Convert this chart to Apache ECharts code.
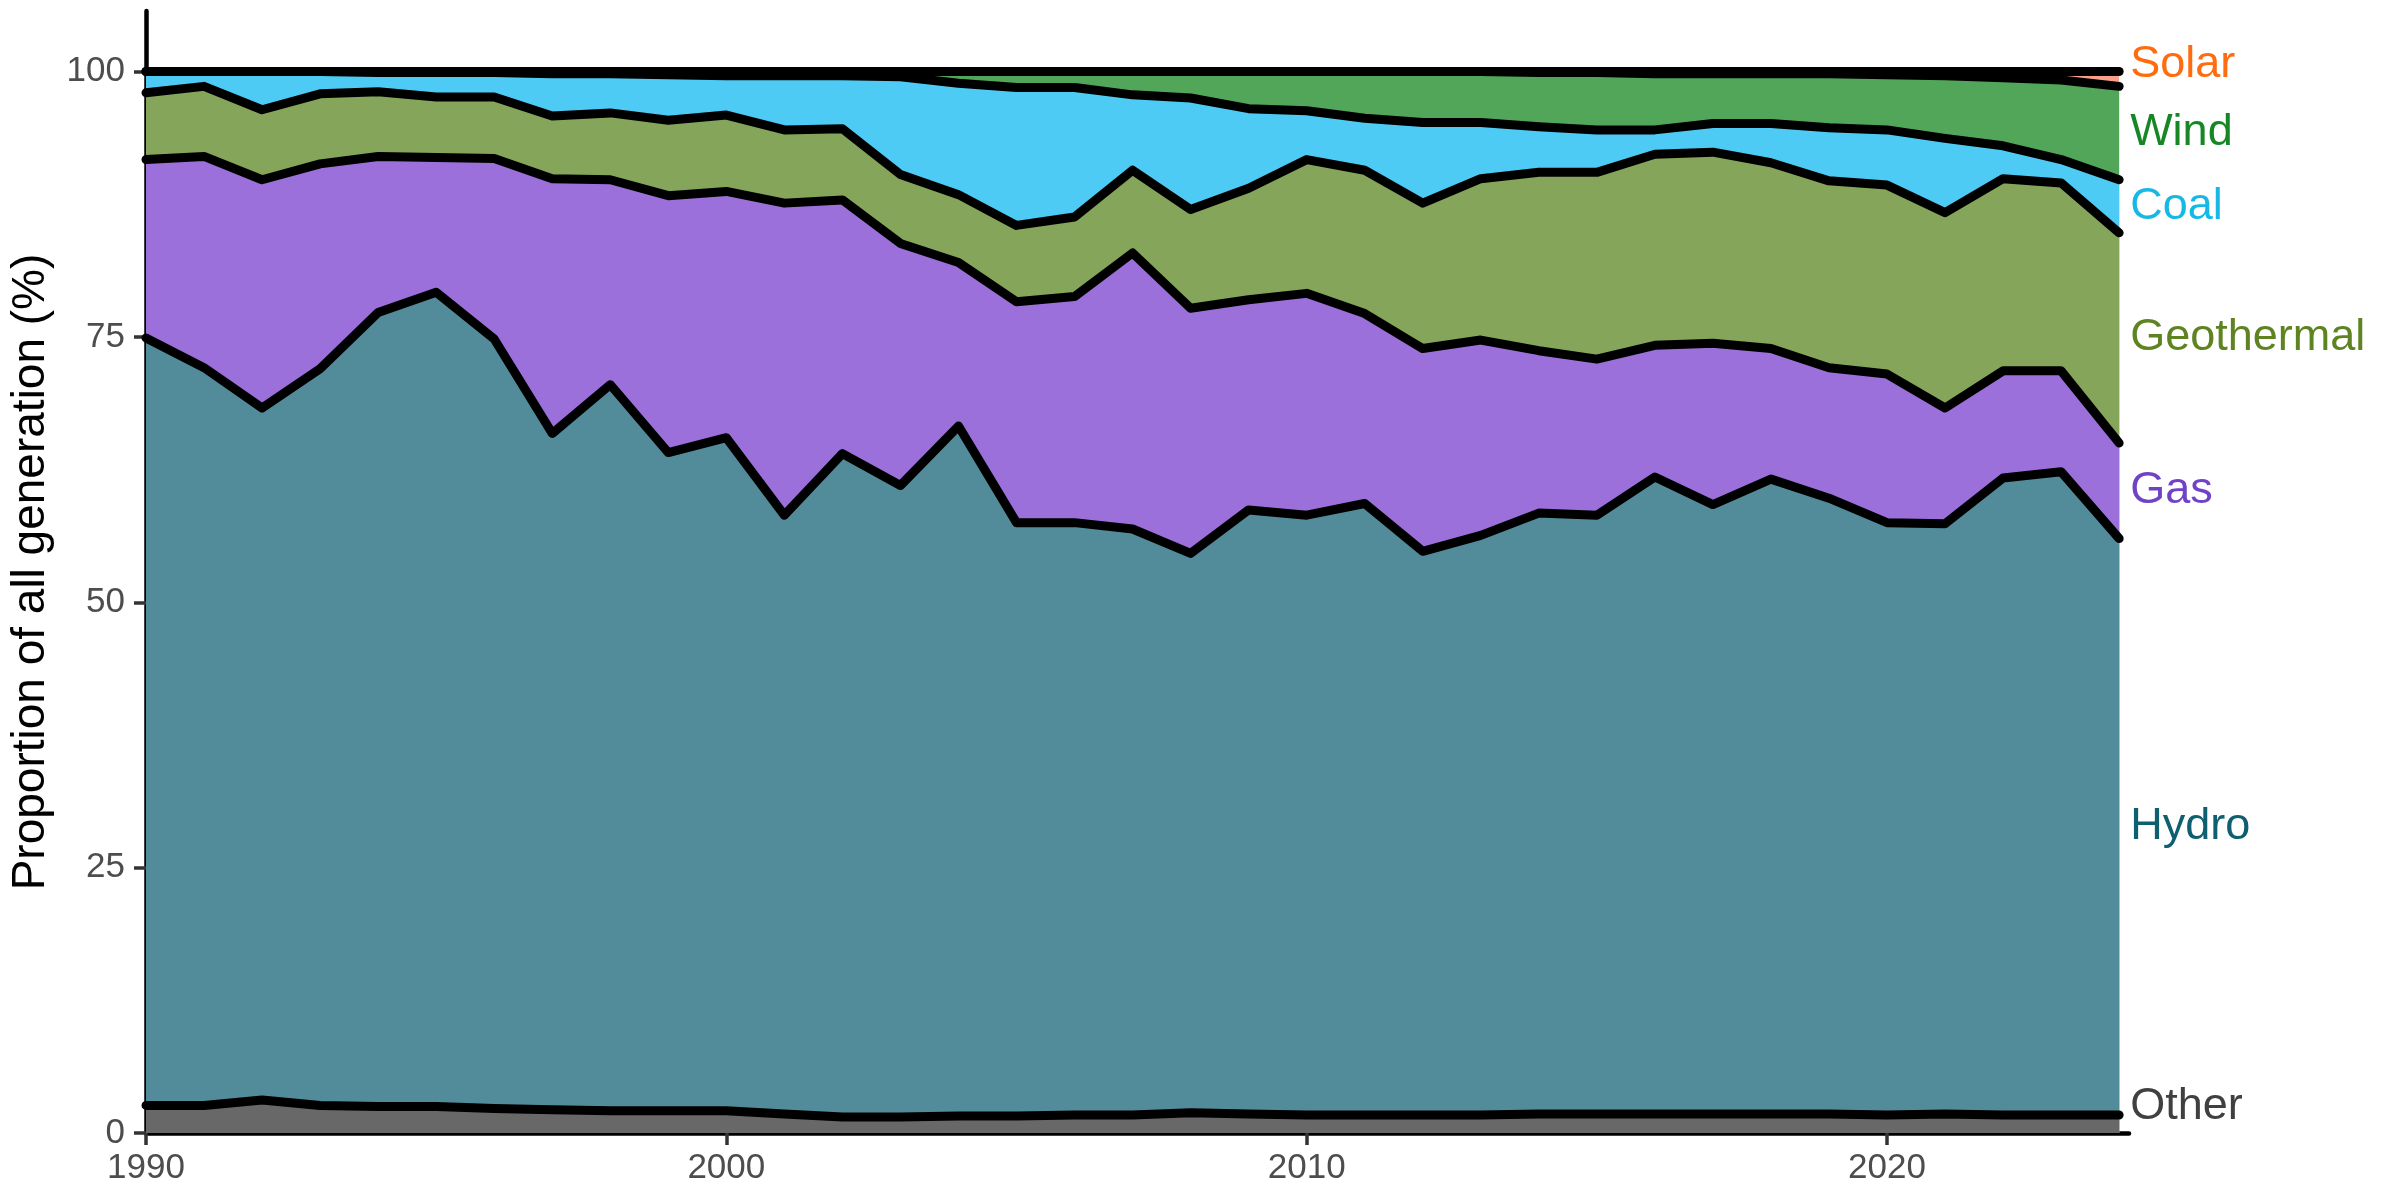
<!DOCTYPE html>
<html>
<head>
<meta charset="utf-8">
<script src="https://cdn.jsdelivr.net/npm/echarts@6/dist/echarts.min.js"></script>
<style>
html,body{margin:0;padding:0;background:#fff}
#chart{width:2400px;height:1200px}
</style>
</head>
<body>
<div id="chart"></div>
<script>
// share of generation (%) by source
var years = [1990,1991,1992,1993,1994,1995,1996,1997,1998,1999,2000,2001,2002,2003,2004,2005,2006,2007,2008,2009,2010,2011,2012,2013,2014,2015,2016,2017,2018,2019,2020,2021,2022,2023,2024];
var other = [2.6,2.6,3.1,2.6,2.5,2.5,2.3,2.2,2.1,2.1,2.1,1.8,1.5,1.5,1.6,1.6,1.7,1.7,1.9,1.8,1.7,1.7,1.7,1.7,1.8,1.8,1.8,1.8,1.8,1.8,1.7,1.8,1.7,1.7,1.7];
var hydro = [72.3,69.5,65.2,69.4,74.8,76.7,72.5,63.7,68.4,62.0,63.4,56.4,62.5,59.5,65.0,55.9,55.8,55.2,52.7,56.9,56.5,57.6,53.1,54.6,56.6,56.4,60.0,57.4,59.8,58.0,55.8,55.6,60.0,60.6,54.3];
var gas = [16.8,19.9,21.5,19.3,14.7,12.7,17.0,24.0,19.3,24.2,23.2,29.4,23.9,22.8,15.4,20.8,21.3,26.0,23.1,19.8,20.9,17.9,19.1,18.4,15.3,14.7,12.4,15.2,12.3,12.3,14.0,10.9,10.1,9.5,9.0];
var geothermal = [6.3,6.6,6.6,6.6,6.1,5.7,5.8,5.9,6.3,7.1,7.2,6.9,6.7,6.5,6.4,7.2,7.5,7.8,9.3,10.5,12.6,13.5,13.7,15.2,16.8,17.6,18.0,18.0,17.5,17.6,17.8,18.4,18.1,17.7,19.8];
var coal = [2.0,1.4,3.6,2.1,1.8,2.3,2.3,4.0,3.7,4.3,3.7,5.1,5.0,9.2,10.5,13.0,12.2,7.1,10.5,7.5,4.6,4.9,7.6,5.3,4.3,4.0,2.3,2.7,3.7,5.0,5.2,7.0,3.1,2.2,5.0];
var wind = [0,0,0,0,0.1,0.1,0.1,0.2,0.2,0.3,0.4,0.4,0.4,0.5,1.1,1.5,1.5,2.2,2.5,3.5,3.7,4.4,4.8,4.8,5.1,5.4,5.3,4.7,4.7,5.1,5.2,5.9,6.4,7.5,8.8];
var solar = [0,0,0,0,0,0,0,0,0,0,0,0,0,0,0,0,0,0,0,0,0,0,0,0,0.1,0.1,0.2,0.2,0.2,0.2,0.3,0.4,0.6,0.8,1.4];

var sources = ['Other','Hydro','Gas','Geothermal','Coal','Wind','Solar'];
var values = [other, hydro, gas, geothermal, coal, wind, solar];
var xTicks = [1990, 2000, 2010, 2020];
var yTicks = [0, 25, 50, 75, 100];

var fills = ['#686868','#528C9A','#9B70DB','#84A55A','#4ECBF4','#51A659','#F9A08A'];
var labelColours = ['#404040','#0E5F70','#7043C6','#5E8321','#16B9E6','#178726','#FF6B0F'];
var labelNudge = [[0,-17],[0,0],[0,0],[0,0],[0,0],[0,0],[0,-14]];
var font = 'Liberation Sans, Arial, sans-serif';

// running totals, bottom band first
var tops = [];
values.forEach(function (arr, k) {
	tops.push(arr.map(function (v, i) { return (k ? tops[k - 1][i] : 0) + v; }));
});

function pairs(arr) {
	return arr.map(function (v, i) { return [years[i], +v.toFixed(2)]; });
}

var series = [];
// filled bands: each fills down to 0, lower bands painted over higher ones
sources.forEach(function (name, k) {
	series.push({
		name: name, type: 'line', data: pairs(tops[k]),
		symbol: 'none', silent: true, z: 10 - k,
		lineStyle: { width: 0 },
		areaStyle: { color: fills[k], opacity: 1, origin: 'start' }
	});
});
// black outlines along the top of every band
sources.forEach(function (name, k) {
	series.push({
		name: name + ' edge', type: 'line', data: pairs(tops[k]),
		symbol: 'none', silent: true, z: 20,
		lineStyle: { color: '#000', width: 9, join: 'round', cap: 'round' }
	});
});

// labels at the right end, in the middle of each band
var last = years.length - 1;
var labelData = sources.map(function (name, k) {
	var lo = k ? tops[k - 1][last] : 0;
	return {
		value: [years[last], (lo + tops[k][last]) / 2],
		label: { formatter: name, color: labelColours[k], offset: labelNudge[k] }
	};
});
series.push({
	type: 'scatter', data: labelData, symbolSize: 0, silent: true, z: 30,
	itemStyle: { opacity: 1 },
	label: { show: true, position: 'right', distance: 11, fontSize: 45, fontFamily: font, opacity: 1 }
});

var chart = echarts.init(document.getElementById('chart'));
chart.setOption({
	animation: false,
	backgroundColor: '#fff',
	grid: { left: 146, right: 271, top: 11, bottom: 67 },
	xAxis: {
		type: 'value', min: 1990, max: 2024.17, interval: 10,
		axisLine: { lineStyle: { color: '#000', width: 4.5 } },
		axisTick: { length: 12, customValues: xTicks, lineStyle: { color: '#333', width: 3.5 } },
		axisLabel: {
			fontSize: 35, color: '#4D4D4D', margin: 18, fontFamily: font, customValues: xTicks,
			formatter: function (v) { return v % 10 === 0 ? String(v) : ''; }
		},
		splitLine: { show: false }
	},
	yAxis: {
		type: 'value', min: 0, max: 105.7, interval: 25,
		name: 'Proportion of all generation (%)',
		nameLocation: 'middle', nameRotate: 90, nameGap: 92,
		nameTextStyle: { fontSize: 46, color: '#000', fontFamily: font },
		axisLine: { show: true, lineStyle: { color: '#000', width: 4.5 } },
		axisTick: { show: true, length: 12, customValues: yTicks, lineStyle: { color: '#333', width: 3.5 } },
		axisLabel: {
			fontSize: 35, color: '#4D4D4D', margin: 21, fontFamily: font, customValues: yTicks,
			formatter: function (v) { return v % 25 === 0 ? String(v) : ''; }
		},
		splitLine: { show: false }
	},
	series: series
});
</script>
</body>
</html>
